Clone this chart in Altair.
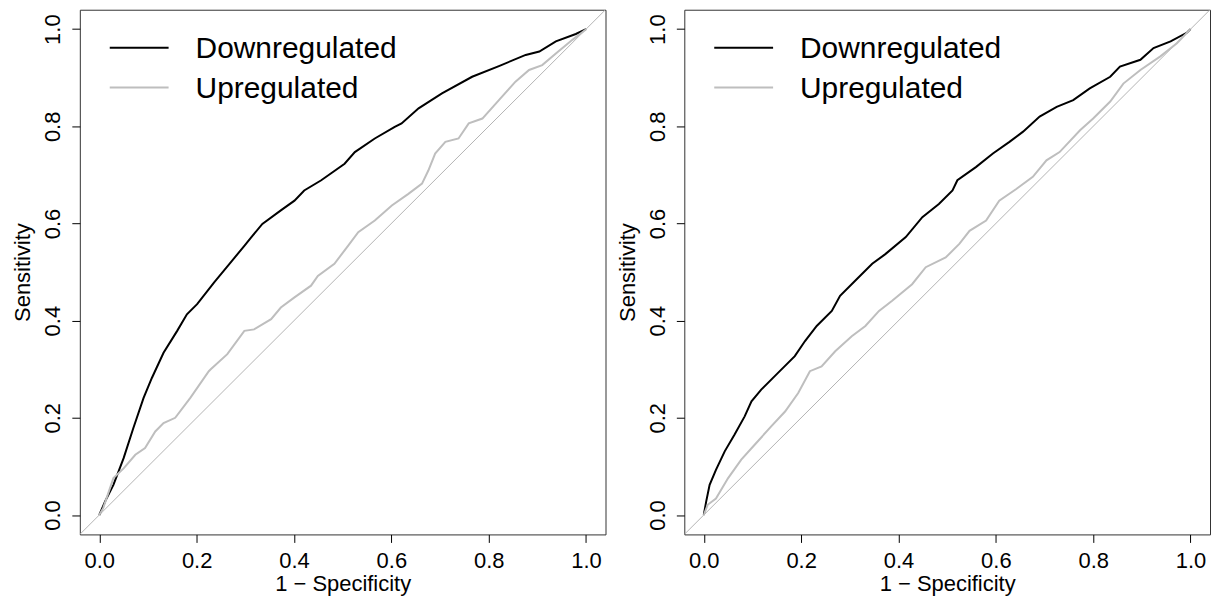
import altair as alt
import pandas as pd

# ---------------- data ----------------
tick_values = [0.0, 0.2, 0.4, 0.6, 0.8, 1.0]
axis_domain = [-0.04, 1.04]
diag_ends = [-0.04, 1.04]
series_names = ["Downregulated", "Upregulated"]
series_colors = ["#000000", "#bebebe"]

# left panel
left_down_fpr = [0.0, 0.012, 0.029, 0.050, 0.070, 0.091, 0.108, 0.132, 0.160, 0.180, 0.201,
                 0.236, 0.270, 0.298, 0.315, 0.335, 0.373, 0.401, 0.421, 0.456, 0.504,
                 0.525, 0.566, 0.607, 0.621, 0.656, 0.704, 0.766, 0.821, 0.876, 0.904,
                 0.938, 0.979, 1.0]
left_down_tpr = [0.0, 0.028, 0.062, 0.117, 0.179, 0.241, 0.282, 0.334, 0.379, 0.413, 0.434,
                 0.479, 0.520, 0.554, 0.575, 0.599, 0.627, 0.647, 0.668, 0.689, 0.723,
                 0.747, 0.775, 0.799, 0.806, 0.837, 0.868, 0.902, 0.924, 0.947, 0.954,
                 0.975, 0.990, 1.0]
left_up_fpr = [0.0, 0.008, 0.029, 0.050, 0.074, 0.094, 0.115, 0.132, 0.156, 0.187, 0.225,
               0.229, 0.263, 0.298, 0.318, 0.353, 0.373, 0.401, 0.435, 0.449, 0.483,
               0.511, 0.532, 0.566, 0.601, 0.635, 0.663, 0.676, 0.690, 0.711, 0.738,
               0.759, 0.787, 0.821, 0.855, 0.883, 0.910, 0.938, 0.972, 0.997, 1.0]
left_up_tpr = [0.0, 0.014, 0.076, 0.096, 0.124, 0.138, 0.172, 0.189, 0.200, 0.241, 0.296,
               0.300, 0.331, 0.379, 0.382, 0.403, 0.427, 0.448, 0.472, 0.492, 0.517,
               0.554, 0.582, 0.606, 0.637, 0.661, 0.682, 0.709, 0.744, 0.768, 0.775,
               0.806, 0.816, 0.854, 0.892, 0.916, 0.926, 0.950, 0.978, 0.997, 1.0]

# right panel
right_down_fpr = [0.0, 0.005, 0.012, 0.025, 0.043, 0.063, 0.084, 0.098, 0.118, 0.153, 0.187,
                  0.208, 0.232, 0.263, 0.280, 0.311, 0.346, 0.373, 0.415, 0.449, 0.483,
                  0.511, 0.521, 0.559, 0.594, 0.628, 0.656, 0.690, 0.725, 0.759, 0.793,
                  0.835, 0.855, 0.897, 0.924, 0.959, 0.993, 1.0]
right_down_tpr = [0.0, 0.028, 0.062, 0.093, 0.131, 0.165, 0.203, 0.234, 0.258, 0.293, 0.327,
                  0.358, 0.389, 0.420, 0.451, 0.482, 0.517, 0.537, 0.572, 0.613, 0.640,
                  0.668, 0.689, 0.716, 0.744, 0.768, 0.789, 0.820, 0.840, 0.854, 0.878,
                  0.902, 0.923, 0.937, 0.961, 0.975, 0.993, 1.0]
right_up_fpr = [0.0, 0.008, 0.025, 0.050, 0.077, 0.105, 0.139, 0.167, 0.194, 0.218, 0.242,
                0.270, 0.304, 0.332, 0.360, 0.387, 0.428, 0.456, 0.497, 0.525, 0.546,
                0.580, 0.607, 0.642, 0.676, 0.704, 0.731, 0.773, 0.800, 0.835, 0.862,
                0.897, 0.938, 0.972, 1.0]
right_up_tpr = [0.0, 0.021, 0.034, 0.076, 0.114, 0.145, 0.183, 0.213, 0.251, 0.296, 0.306,
                0.337, 0.368, 0.389, 0.420, 0.441, 0.475, 0.510, 0.530, 0.558, 0.585,
                0.606, 0.647, 0.671, 0.696, 0.730, 0.747, 0.792, 0.816, 0.851, 0.888,
                0.916, 0.944, 0.971, 1.0]

FONT = "Liberation Sans"
PANEL_W = 527
PANEL_H = 526


def make_panel(down_fpr, down_tpr, up_fpr, up_tpr):
    rows = []
    for name, fx, ty in ((series_names[0], down_fpr, down_tpr),
                         (series_names[1], up_fpr, up_tpr)):
        for i, (a, b) in enumerate(zip(fx, ty)):
            rows.append({"series": name, "fpr": a, "tpr": b, "i": i})
    df = pd.DataFrame(rows)

    xs = alt.Scale(domain=axis_domain, nice=False, zero=False)
    ys = alt.Scale(domain=axis_domain, nice=False, zero=False)
    xaxis = alt.Axis(values=tick_values, format=".1f", title="1 − Specificity",
                     labelFlush=False, labelPadding=8, titlePadding=1,
                     minExtent=38, maxExtent=38)
    yaxis = alt.Axis(values=tick_values, format=".1f", title="Sensitivity",
                     labelFlush=False, labelAngle=270, labelAlign="center",
                     labelBaseline="bottom", labelPadding=7,
                     minExtent=40, maxExtent=40, titlePadding=5)

    diag = alt.Chart(pd.DataFrame({"x": diag_ends, "y": diag_ends})).mark_line(
        color="#b4b4b4", strokeWidth=1, clip=True
    ).encode(
        x=alt.X("x:Q", scale=xs, axis=xaxis),
        y=alt.Y("y:Q", scale=ys, axis=yaxis),
    )

    curves = alt.Chart(df).mark_line(strokeWidth=2, clip=True).encode(
        x=alt.X("fpr:Q", scale=xs, axis=xaxis),
        y=alt.Y("tpr:Q", scale=ys, axis=yaxis),
        color=alt.Color("series:N",
                        scale=alt.Scale(domain=series_names, range=series_colors),
                        legend=None),
        detail="series:N",
        order="i:Q",
    )

    layers = [diag, curves]
    one = pd.DataFrame({"k": [0]})
    for name, col, ly, ty in ((series_names[0], series_colors[0], 38, 48),
                              (series_names[1], series_colors[1], 78, 88)):
        layers.append(
            alt.Chart(one).mark_rule(color=col, strokeWidth=2).encode(
                x=alt.value(30), x2=alt.value(89), y=alt.value(ly)
            )
        )
        layers.append(
            alt.Chart(one).mark_text(
                align="left", baseline="alphabetic", fontSize=30, font=FONT, color="#000000"
            ).encode(x=alt.value(116), y=alt.value(ty), text=alt.value(name))
        )

    return alt.layer(*layers).properties(width=PANEL_W, height=PANEL_H)


left = make_panel(left_down_fpr, left_down_tpr, left_up_fpr, left_up_tpr)
right = make_panel(right_down_fpr, right_down_tpr, right_up_fpr, right_up_tpr)

chart = alt.hconcat(left, right, spacing=9).properties(
    padding={"left": 3, "top": 0, "right": 0, "bottom": 0},
    background="white",
).configure_axis(
    labelFont=FONT, titleFont=FONT, labelFontSize=22, titleFontSize=22,
    labelColor="#000000", titleColor="#000000", titleFontWeight="normal",
    tickColor="#000000", tickSize=8, tickWidth=1, domain=False, grid=False,
).configure_view(
    stroke="#333333", strokeWidth=1
)

chart.save("out.html", embed_options={"renderer": "svg", "actions": False})
